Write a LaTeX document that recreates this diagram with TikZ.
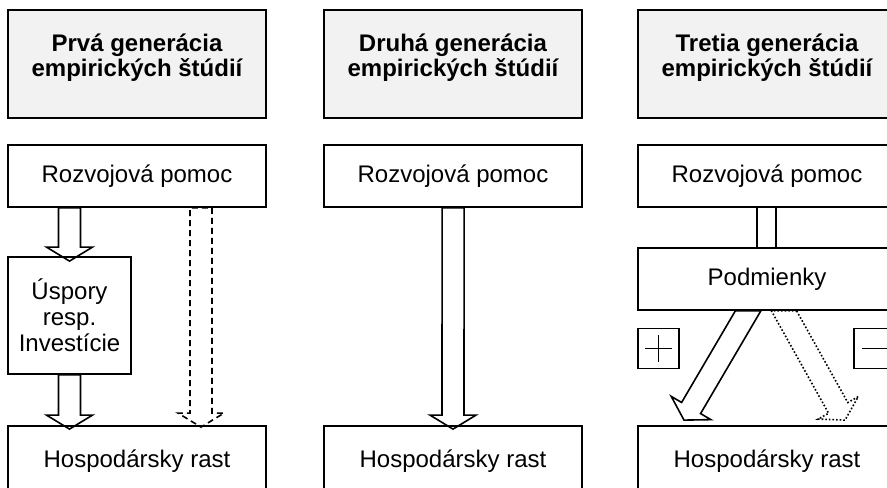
\documentclass[tikz,border=0pt]{standalone}
\usepackage{fontspec}
\setmainfont{Liberation Sans}
\usetikzlibrary{calc}

\definecolor{hdrgray}{HTML}{F2F2F2}

% block arrow from #2 to #3, shaft cut flat at the start
\newcommand\blockarrow[3][]{%
  \coordinate (hb) at ($(#3)!7pt!(#2)$);
  \coordinate (sl) at ($(#2)!5.5pt!90:(#3)$);
  \coordinate (hl) at ($(hb)!5.5pt!90:(#3)$);
  \coordinate (sr) at ($(#2)!5.5pt!-90:(#3)$);
  \coordinate (hr) at ($(hb)!5.5pt!-90:(#3)$);
  \coordinate (ed) at ($(#2)+(10,0)$);
  \draw[#1] (intersection of sl--hl and #2--ed) -- (hl)
    -- ($(hb)!11.5pt!90:(#3)$) -- (#3) -- ($(hb)!11.5pt!-90:(#3)$)
    -- (hr) -- (intersection of sr--hr and #2--ed) -- cycle;
}

\tikzset{
  box/.style={draw, line width=0.9pt, inner sep=0pt, minimum width=129pt,
    minimum height=31pt, align=center,
    font=\fontsize{12}{13}\selectfont},
  hdr/.style={box, fill=hdrgray, minimum height=54pt},
  hdrtext/.style={align=center, font=\fontsize{12}{12.5}\selectfont\bfseries},
  signbox/.style={draw, line width=0.8pt, minimum width=20.5pt,
    minimum height=20pt, inner sep=0pt},
}

\begin{document}
\begin{tikzpicture}[x=0.5pt,y=-0.5pt,line width=0.8pt]
  \clip (0,0) rectangle (887,487);

  % headers
  \node[hdr] (g1) at (137,64) {};
  \node[hdr] (g2) at (453,64) {};
  \node[hdr] (g3) at (767,64) {};
  \node[hdrtext] (t1) at ([yshift=3pt]g1.center) {Prvá generácia\\empirických štúdií};
  \node[hdrtext] (t2) at ([yshift=3pt]g2.center) {Druhá generácia\\empirických štúdií};
  \node[hdrtext] (t3) at ([yshift=3pt]g3.center) {Tretia generácia\\empirických štúdií};

  % first generation
  \node[box] (r1) at (137,176) {Rozvojová pomoc};
  \node[box, minimum width=61.5pt, minimum height=58.5pt] (u1) at (69.5,315.5)
    {Úspory\\resp.\\Investície};
  \node[box, minimum height=35pt] (h1) at (137,461) {Hospodársky rast};
  \coordinate (a1) at (u1.north |- r1.south);
  \coordinate (b1) at ([yshift=-2.5pt]u1.north);
  \blockarrow{a1}{b1}
  \coordinate (a2) at (u1.south);
  \coordinate (b2) at ([yshift=-2pt]h1.north -| u1.south);
  \blockarrow{a2}{b2}
  \coordinate (a3) at ($(r1.south)+(64,0)$);
  \coordinate (b3) at ([yshift=-1pt]h1.north -| a3);
  \blockarrow[dash pattern=on 3pt off 2pt]{a3}{b3}

  % second generation
  \node[box] (r2) at (453,176) {Rozvojová pomoc};
  \node[box, minimum height=35pt] (h2) at (453,461) {Hospodársky rast};
  \coordinate (a4) at (r2.south);
  \coordinate (b4) at ([yshift=-2pt]h2.north);
  \blockarrow{a4}{b4}

  % third generation
  \node[box] (r3) at (767,176) {Rozvojová pomoc};
  \node[box] (p3) at (767,279) {Podmienky};
  \node[box, minimum height=35pt] (h3) at (767,461) {Hospodársky rast};
  \node[draw, minimum width=9.5pt, minimum height=20.5pt, inner sep=0pt]
    (c3) at (766.5,227.5) {};
  \coordinate (a5) at ($(p3.south)+(-19,0)$);
  \coordinate (b5) at ($(h3.north)+(-83,-5)$);
  \blockarrow{a5}{b5}
  \coordinate (a6) at ($(p3.south)+(17,0)$);
  \coordinate (b6) at ($(h3.north)+(78,-5)$);
  \blockarrow[densely dotted]{a6}{b6}
  \node[signbox, path picture={
      \draw (path picture bounding box.center) +(-6.75pt,0) -- +(6.75pt,0)
        +(0,-6.75pt) -- +(0,6.75pt);}] (plus) at (658.5,348.5) {};
  \node[signbox, path picture={
      \draw (path picture bounding box.center) +(-6.5pt,0) -- +(6.5pt,0);}]
    (minus) at (874.5,348.5) {};
\end{tikzpicture}
\end{document}
